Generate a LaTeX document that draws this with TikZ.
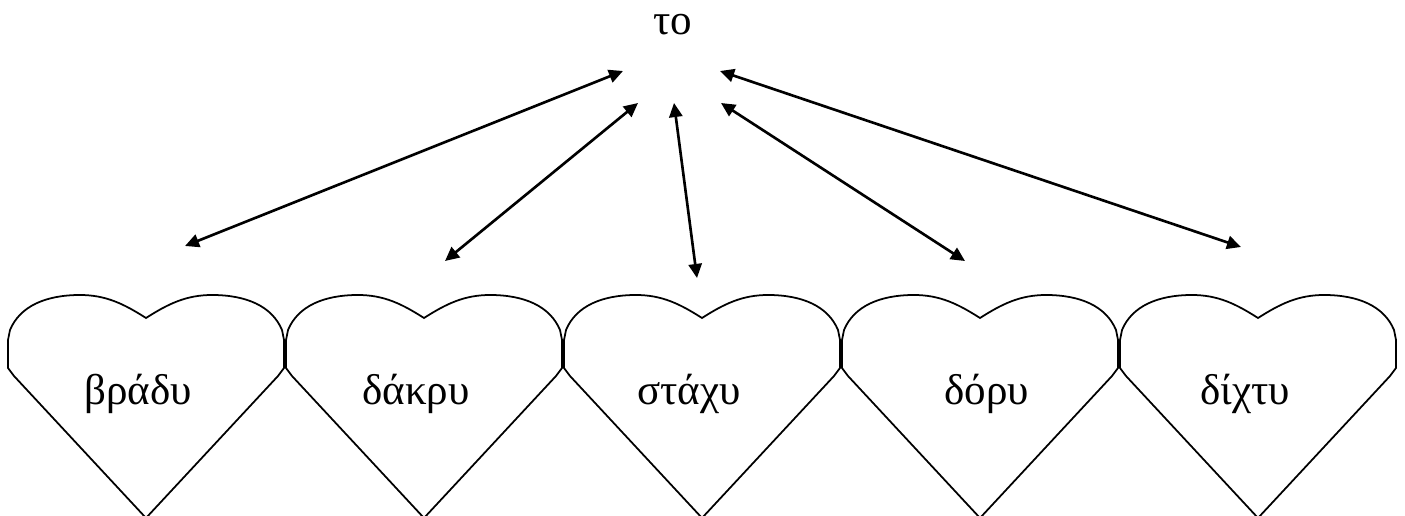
\documentclass[tikz,border=0pt]{standalone}
\usepackage{fontspec}
\setmainfont{Liberation Serif}[Script=Greek]
\usetikzlibrary{arrows.meta}

\begin{document}
\begin{tikzpicture}[x=0.02cm, y=-0.02cm,
    word/.style={font=\fontsize{24.5}{29}\selectfont, anchor=base, inner sep=0pt},
    link/.style={{Triangle[length=8pt,width=7.5pt]}-{Triangle[length=8pt,width=7.5pt]}, line width=1.5pt},
    heart/.pic={
      \draw[line width=1pt] (0,318) .. controls (-22,304) and (-40,295) .. (-66,295)
        .. controls (-100,295) and (-126,306) .. (-136,330)
        -- (-138,340) -- (-138,368) -- (-132,376) -- (0,518) -- (132,376) -- (138,368) -- (138,340)
        -- (136,330) .. controls (126,306) and (100,295) .. (66,295)
        .. controls (40,295) and (22,304) .. cycle;
    }]
\useasboundingbox (0,0) rectangle (1405,516);

\pic at (146,0) {heart};
\pic at (424,0) {heart};
\pic at (702,0) {heart};
\pic at (980,0) {heart};
\pic at (1258,0) {heart};

\node[word] (to) at (673,35) {το};
\node[word] (bradu) at (138,404) {βράδυ};
\node[word] (dakru) at (416,404) {δάκρυ};
\node[word] (stachu) at (689,404) {στάχυ};
\node[word] (doru) at (987,404) {δόρυ};
\node[word] (dichtu) at (1245,404) {δίχτυ};

% arrow ends
\coordinate (to-bradu) at (623,71);
\coordinate (to-dakru) at (638,103);
\coordinate (to-stachu) at (674,103);
\coordinate (to-doru) at (721,103);
\coordinate (to-dichtu) at (720,71);
\coordinate (bradu-top) at (185,246);
\coordinate (dakru-top) at (445,261);
\coordinate (stachu-top) at (697,278);
\coordinate (doru-top) at (965,261);
\coordinate (dichtu-top) at (1241,247);

\draw[link] (to-bradu) -- (bradu-top);
\draw[link] (to-dakru) -- (dakru-top);
\draw[link] (to-stachu) -- (stachu-top);
\draw[link] (to-doru) -- (doru-top);
\draw[link] (to-dichtu) -- (dichtu-top);
\end{tikzpicture}
\end{document}
